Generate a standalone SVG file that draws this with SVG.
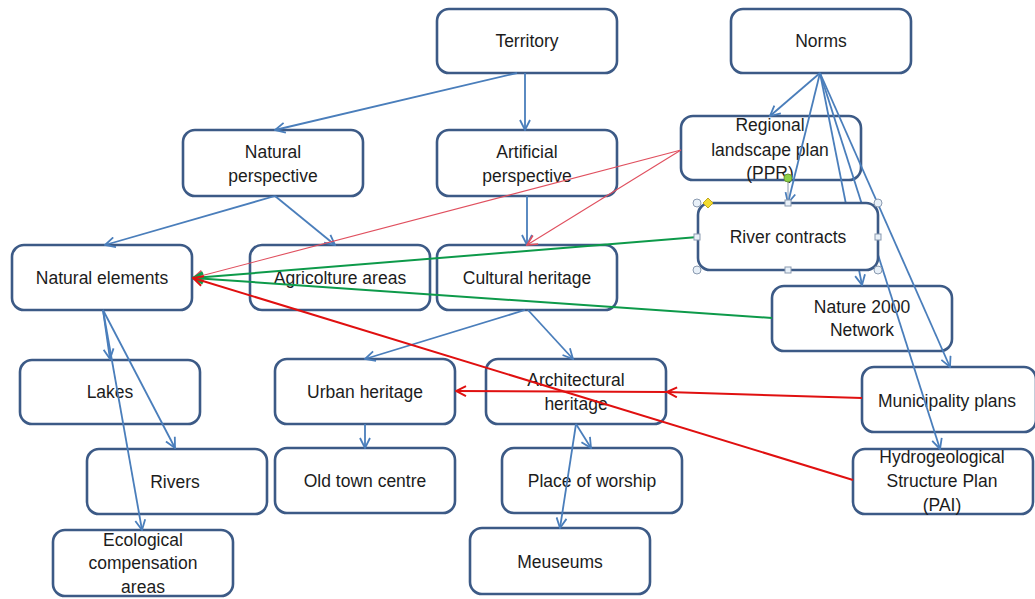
<svg xmlns="http://www.w3.org/2000/svg" width="1035" height="599" viewBox="0 0 1035 599">
<style>
.box{fill:#fff;stroke:#3c5a86;stroke-width:2.6}
.t{font-family:"Liberation Sans",Arial,sans-serif;font-size:17.5px;fill:#1c1c1c;text-anchor:middle}
.b{stroke:#4a7ebb;stroke-width:1.8;fill:none;marker-end:url(#ab)}
.rt{stroke:#e0505f;stroke-width:1.1;fill:none;marker-end:url(#art)}
.g{stroke:#0d9a4a;stroke-width:2;fill:none;marker-end:url(#ag)}
.r{stroke:#e01010;stroke-width:2;fill:none;marker-end:url(#ar)}
.h{fill:#e8f0f8;stroke:#8a9ab0;stroke-width:1}
</style>
<defs>
<marker id="ab" viewBox="0 0 12 12" refX="11" refY="6" markerWidth="12" markerHeight="12" markerUnits="userSpaceOnUse" orient="auto"><path d="M1,1 L11,6 L1,11" fill="none" stroke="#4a7ebb" stroke-width="1.8"/></marker>
<marker id="art" viewBox="0 0 12 12" refX="11" refY="6" markerWidth="12" markerHeight="12" markerUnits="userSpaceOnUse" orient="auto"><path d="M1,1 L11,6 L1,11" fill="none" stroke="#e0505f" stroke-width="1.6"/></marker>
<marker id="ag" viewBox="0 0 12 12" refX="11" refY="6" markerWidth="12" markerHeight="12" markerUnits="userSpaceOnUse" orient="auto"><path d="M1,1 L11,6 L1,11" fill="none" stroke="#0d9a4a" stroke-width="2"/></marker>
<marker id="ar" viewBox="0 0 12 12" refX="11" refY="6" markerWidth="12" markerHeight="12" markerUnits="userSpaceOnUse" orient="auto"><path d="M1,1 L11,6 L1,11" fill="none" stroke="#e01010" stroke-width="2"/></marker>
</defs>
<rect width="1035" height="599" fill="#fff"/>

<g id="territory"><rect class="box" x="437" y="9" width="180" height="64" rx="12"/><text class="t" x="527" y="47">Territory</text></g>
<g id="norms"><rect class="box" x="731" y="9" width="180" height="64" rx="12"/><text class="t" x="821" y="47">Norms</text></g>
<g id="natural-perspective"><rect class="box" x="183" y="130" width="180" height="66" rx="12"/><text class="t" x="273" y="158">Natural</text><text class="t" x="273" y="182">perspective</text></g>
<g id="artificial-perspective"><rect class="box" x="437" y="130" width="180" height="66" rx="12"/><text class="t" x="527" y="158">Artificial</text><text class="t" x="527" y="182">perspective</text></g>
<g id="ppr"><rect class="box" x="681" y="116" width="180" height="64" rx="12"/><text class="t" x="770" y="131">Regional</text><text class="t" x="770" y="156">landscape plan</text><text class="t" x="770" y="179">(PPR)</text></g>
<g id="natural-elements"><rect class="box" x="12" y="245" width="180" height="65" rx="12"/><text class="t" x="102" y="284">Natural elements</text></g>
<g id="agricolture-areas"><rect class="box" x="250" y="245" width="180" height="65" rx="12"/><text class="t" x="340" y="284">Agricolture areas</text></g>
<g id="cultural-heritage"><rect class="box" x="437" y="245" width="180" height="65" rx="12"/><text class="t" x="527" y="284">Cultural heritage</text></g>
<g id="nature-2000"><rect class="box" x="772" y="286" width="180" height="65" rx="12"/><text class="t" x="862" y="313">Nature 2000</text><text class="t" x="862" y="336">Network</text></g>
<g id="lakes"><rect class="box" x="20" y="360" width="180" height="64" rx="12"/><text class="t" x="110" y="398">Lakes</text></g>
<g id="urban-heritage"><rect class="box" x="275" y="359" width="180" height="65" rx="12"/><text class="t" x="365" y="398">Urban heritage</text></g>
<g id="architectural-heritage"><rect class="box" x="486" y="359" width="180" height="65" rx="12"/><text class="t" x="576" y="386">Architectural</text><text class="t" x="576" y="410">heritage</text></g>
<g id="municipality-plans"><rect class="box" x="862" y="367" width="174" height="65" rx="12"/><text class="t" x="947" y="407">Municipality plans</text></g>
<g id="hydrogeological"><rect class="box" x="853" y="449" width="180" height="65" rx="12"/><text class="t" x="942" y="463">Hydrogeological</text><text class="t" x="942" y="487">Structure Plan</text><text class="t" x="942" y="511">(PAI)</text></g>
<g id="rivers"><rect class="box" x="87" y="449" width="180" height="65" rx="12"/><text class="t" x="175" y="488">Rivers</text></g>
<g id="old-town-centre"><rect class="box" x="275" y="448" width="180" height="65" rx="12"/><text class="t" x="365" y="487">Old town centre</text></g>
<g id="place-of-worship"><rect class="box" x="502" y="448" width="180" height="65" rx="12"/><text class="t" x="592" y="487">Place of worship</text></g>
<g id="ecological"><rect class="box" x="53" y="530" width="180" height="66" rx="12"/><text class="t" x="143" y="546">Ecological</text><text class="t" x="143" y="569">compensation</text><text class="t" x="143" y="593">areas</text></g>
<g id="meuseums"><rect class="box" x="470" y="528" width="180" height="66" rx="12"/><text class="t" x="560" y="568">Meuseums</text></g>

<g id="connectors">
<path class="b" d="M517,73 L275,130"/>
<path class="b" d="M525,73 L525,130"/>
<path class="b" d="M820,73 L770,116"/>
<path class="b" d="M820,73 L788,203"/>
<path class="b" d="M820,73 L862,285"/>
<path class="b" d="M820,73 L950,367"/>
<path class="b" d="M820,73 L940,449"/>
<path class="b" d="M275,196 L105,245"/>
<path class="b" d="M275,196 L335,245"/>
<path class="b" d="M527,196 L527,245"/>
<path class="b" d="M525,310 L365,359"/>
<path class="b" d="M528,310 L573,359"/>
<path class="b" d="M103,310 L110,359"/>
<path class="b" d="M103,310 L175,448"/>
<path class="b" d="M103,310 L142,530"/>
<path class="b" d="M365,424 L365,448"/>
<path class="b" d="M576,424 L591,448"/>
<path class="b" d="M576,424 L560,528"/>
<path class="rt" d="M681,150 L193,278"/>
<path class="rt" d="M681,150 L527,245"/>
<path class="g" d="M698,237 L193,278"/>
<path class="g" d="M772,318 L193,278"/>
<path class="r" d="M853,480 L193,278"/>
<path class="r" d="M862,398 L667,392"/>
<path class="r" d="M667,392 L456,391"/>
</g>

<g id="river-contracts"><rect x="698" y="203" width="180" height="67" rx="12" fill="#fff" stroke="#3c5a86" stroke-width="2.6"/><text class="t" x="788" y="243">River contracts</text>
<line x1="788" y1="178" x2="788" y2="203" stroke="#8a9ab0" stroke-width="1"/>
<circle cx="788" cy="178" r="4" fill="#8cd048" stroke="#6a9a30" stroke-width="1"/>
<circle class="h" cx="697" cy="203" r="4"/><circle class="h" cx="878" cy="203" r="4"/><circle class="h" cx="697" cy="270" r="4"/><circle class="h" cx="878" cy="270" r="4"/>
<rect class="h" x="785" y="200" width="6" height="6"/><rect class="h" x="694" y="234" width="6" height="6"/><rect class="h" x="875" y="234" width="6" height="6"/><rect class="h" x="785" y="267" width="6" height="6"/>
<path d="M708,198 L713,203 L708,208 L703,203 Z" fill="#f2dc30" stroke="#c0a820" stroke-width="1"/>
</g>
</svg>
